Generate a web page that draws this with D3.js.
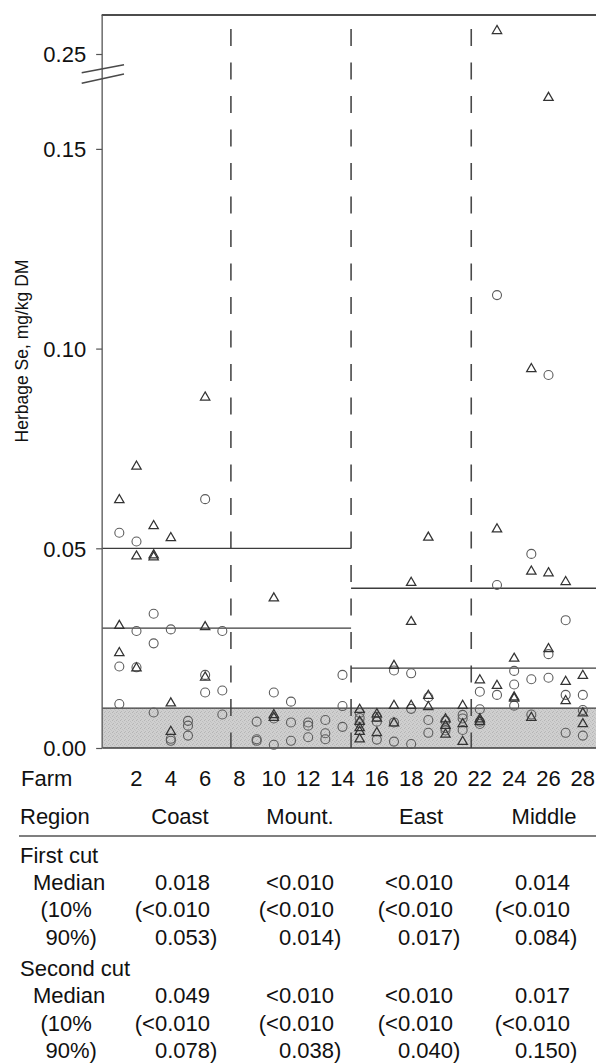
<!DOCTYPE html>
<html>
<head>
<meta charset="utf-8">
<script src="https://cdn.jsdelivr.net/npm/d3@7"></script>
<style>
  html, body { margin: 0; padding: 0; background: #fff; }
  svg { display: block; font-family: "Liberation Sans", Arial, sans-serif; }
</style>
</head>
<body>
<svg id="chart" width="596" height="1064"></svg>
<script>
// ---- data -------------------------------------------------------------
const farmTicks = [2, 4, 6, 8, 10, 12, 14, 16, 18, 20, 22, 24, 26, 28];
const yTicks = [0, 0.05, 0.10, 0.15, 0.25];
const regionDividers = [7.5, 14.5, 21.5];
const regionNames = ["Coast", "Mount.", "East", "Middle"];

// herbage Se (mg/kg DM) per farm, farms 1..28
const firstCut = [
  [0.0539, 0.0204, 0.011],
  [0.0517, 0.0293, 0.0202],
  [0.0336, 0.0262, 0.0089],
  [0.0297, 0.0023, 0.0018],
  [0.0068, 0.0056, 0.0031],
  [0.0623, 0.0183, 0.0139],
  [0.0293, 0.0144, 0.0084],
  [],
  [0.0066, 0.0022, 0.0018],
  [0.0139, 0.0074, 0.0008],
  [0.0116, 0.0064, 0.0018],
  [0.0064, 0.0056, 0.0027],
  [0.007, 0.0037, 0.0022],
  [0.0183, 0.0105, 0.0053],
  [0.0088, 0.0075, 0.0062],
  [0.0078, 0.0066, 0.0021],
  [0.0194, 0.0064, 0.0016],
  [0.0187, 0.0098, 0.001],
  [0.0127, 0.007, 0.0038],
  [0.0068, 0.005, 0.0044],
  [0.0083, 0.0074, 0.0045],
  [0.0141, 0.0097, 0.0066, 0.006],
  [0.1134, 0.0408, 0.0133],
  [0.0193, 0.0159, 0.0106],
  [0.0486, 0.0172, 0.0084],
  [0.0934, 0.0235, 0.0176],
  [0.032, 0.0133, 0.0038],
  [0.0133, 0.0095, 0.0031]
];
const secondCut = [
  [0.0623, 0.0308, 0.024],
  [0.0707, 0.0482, 0.0202],
  [0.0558, 0.0485, 0.048],
  [0.0528, 0.0114, 0.0043],
  [],
  [0.088, 0.0305, 0.0179],
  [],
  [],
  [],
  [0.0377, 0.0085, 0.0078],
  [],
  [],
  [],
  [],
  [0.0098, 0.0068, 0.0052, 0.0043, 0.0024],
  [0.0087, 0.0076, 0.004],
  [0.0208, 0.0108, 0.0064],
  [0.0416, 0.0318, 0.0108],
  [0.0529, 0.0133, 0.0105],
  [0.0074, 0.0058, 0.0036],
  [0.0108, 0.0062, 0.0018],
  [0.0172, 0.0074, 0.0068],
  [0.265, 0.055, 0.0158],
  [0.0226, 0.0129, 0.0126],
  [0.0951, 0.0444, 0.0078],
  [0.163, 0.044, 0.025],
  [0.0418, 0.0168, 0.012],
  [0.0183, 0.0089, 0.0062]
];

// reference levels
const detectionLimit = 0.01;
const westLevels = [0.05, 0.03];   // Coast + Mount.
const eastLevels = [0.04, 0.02];   // East + Middle

// summary table
const firstMedian = ["0.018", "<0.010", "<0.010", "0.014"];
const firstP10    = ["(<0.010", "(<0.010", "(<0.010", "(<0.010"];
const firstP90    = ["0.053)", "0.014)", "0.017)", "0.084)"];
const secondMedian = ["0.049", "<0.010", "<0.010", "0.017"];
const secondP10    = ["(<0.010", "(<0.010", "(<0.010", "(<0.010"];
const secondP90    = ["0.078)", "0.038)", "0.040)", "0.150)"];

// ---- layout -----------------------------------------------------------
const svg = d3.select("#chart");
const W = 596;
const plotTop = 15, plotBottom = 748, plotLeft = 102.15;

const x = d3.scaleLinear().domain([0, 29]).range([plotLeft, 600]);
// broken axis: compressed segment above 0.168
const y = d3.scaleLinear().domain([0, 0.168, 0.24, 0.27]).range([plotBottom, 77, 70, 22]);

const defs = svg.append("defs");
const pat = defs.append("pattern").attr("id", "stipple")
  .attr("patternUnits", "userSpaceOnUse").attr("width", 4).attr("height", 4);
pat.append("rect").attr("width", 4).attr("height", 4).attr("fill", "#cfcfcf");
[[0, 0, "#b4b4b4"], [2, 1, "#bdbdbd"], [1, 3, "#b8b8b8"], [3, 2, "#c2c2c2"]].forEach(([px, py, c]) =>
  pat.append("rect").attr("x", px).attr("y", py).attr("width", 1).attr("height", 1).attr("fill", c));

defs.append("clipPath").attr("id", "plotClip")
  .append("rect").attr("x", plotLeft).attr("y", 0).attr("width", W - plotLeft).attr("height", plotBottom + 2);

const plot = svg.append("g").attr("clip-path", "url(#plotClip)");

// below-detection band
plot.append("rect")
  .attr("x", plotLeft).attr("y", y(detectionLimit))
  .attr("width", W - plotLeft).attr("height", y(0) - y(detectionLimit))
  .attr("fill", "url(#stipple)");

// region dividers
plot.selectAll("line.div").data(regionDividers).join("line")
  .attr("class", "div")
  .attr("x1", d => x(d)).attr("x2", d => x(d))
  .attr("y1", 29).attr("y2", plotBottom)
  .attr("stroke", "#4a4a4a").attr("stroke-width", 1.6)
  .attr("stroke-dasharray", "17,16.5");

// reference levels
const hline = (v, a, b) => plot.append("line")
  .attr("x1", a).attr("x2", b).attr("y1", y(v)).attr("y2", y(v))
  .attr("stroke", "#3c3c3c").attr("stroke-width", 1.3);
westLevels.forEach(v => hline(v, plotLeft, x(regionDividers[1])));
eastLevels.forEach(v => hline(v, x(regionDividers[1]), W));
hline(detectionLimit, plotLeft, W);
hline(0, plotLeft, W);

// points
const pts = (arr) => arr.flatMap((vals, i) => vals.map(v => ({ farm: i + 1, v })));

plot.selectAll("circle.first").data(pts(firstCut)).join("circle")
  .attr("class", "first")
  .attr("cx", d => x(d.farm)).attr("cy", d => y(d.v)).attr("r", 4.5)
  .attr("fill", "none").attr("stroke", "#5c5c5c").attr("stroke-width", 1.1);

const tri = d3.symbol().type(d3.symbolTriangle).size(38);
plot.selectAll("path.second").data(pts(secondCut)).join("path")
  .attr("class", "second")
  .attr("transform", d => `translate(${x(d.farm)},${y(d.v) + 0.8})`)
  .attr("d", tri)
  .attr("fill", "none").attr("stroke", "#333").attr("stroke-width", 1.25);

// frame: top border and y axis
svg.append("line").attr("x1", plotLeft - 0.5).attr("x2", W).attr("y1", plotTop).attr("y2", plotTop)
  .attr("stroke", "#111").attr("stroke-width", 1.6);

const yAxis = d3.axisLeft(y).tickValues(yTicks).tickSize(6).tickPadding(10)
  .tickFormat(d3.format(".2f"));
const gy = svg.append("g").attr("transform", `translate(${plotLeft},0)`).call(yAxis);
gy.select(".domain").remove();
gy.selectAll(".tick line").attr("stroke", "#555").attr("stroke-width", 1.2);
gy.selectAll(".tick text").attr("fill", "#111").attr("font-size", 22)
  .attr("font-family", "Liberation Sans, Arial, sans-serif").attr("dy", "0.36em");
svg.append("line").attr("x1", plotLeft).attr("x2", plotLeft).attr("y1", plotTop).attr("y2", plotBottom)
  .attr("stroke", "#555").attr("stroke-width", 1.3);

// axis break marks
[[72.7, 64.7], [83.3, 74.0]].forEach(([a, b]) => {
  svg.append("line").attr("x1", 81.7).attr("y1", a).attr("x2", 124).attr("y2", b)
    .attr("stroke", "#4a4a4a").attr("stroke-width", 1.5);
});

svg.append("text")
  .attr("transform", "translate(28,351) rotate(-90)")
  .attr("text-anchor", "middle").attr("font-size", 17.5).attr("fill", "#111")
  .text("Herbage Se, mg/kg DM");

// ---- farm axis and summary table ------------------------------------
const fs = 22;
const txt = (s, tx, ty, anchor = "start") => svg.append("text")
  .attr("x", tx).attr("y", ty).attr("text-anchor", anchor)
  .attr("font-size", fs).attr("fill", "#111").text(s);

txt("Farm", 21, 786);
svg.selectAll("text.farm").data(farmTicks).join("text")
  .attr("class", "farm")
  .attr("x", d => x(d)).attr("y", 786).attr("text-anchor", "middle")
  .attr("font-size", fs).attr("fill", "#111").text(d => d);

txt("Region", 20, 824);
const regionCenters = [180, 300, 421, 544];
regionNames.forEach((r, i) => txt(r, regionCenters[i], 824, "middle"));

svg.append("line").attr("x1", 19).attr("x2", W).attr("y1", 836).attr("y2", 836)
  .attr("stroke", "#555").attr("stroke-width", 1.3);

const colRight = [210, 334, 453, 570];
// numbers right-aligned, a closing parenthesis hangs past the column edge
function valueRow(vals, ty) {
  vals.forEach((s, i) => {
    const close = s.endsWith(")");
    txt(close ? s.slice(0, -1) : s, colRight[i], ty, "end");
    if (close) txt(")", colRight[i], ty, "start");
  });
}

txt("First cut", 20, 863);
txt("Median", 33, 890); valueRow(firstMedian, 890);
txt("(10%", 40.5, 917); valueRow(firstP10, 917);
txt("90%)", 45.5, 945); valueRow(firstP90, 945);

txt("Second cut", 20, 976);
txt("Median", 33, 1003); valueRow(secondMedian, 1003);
txt("(10%", 40.5, 1031); valueRow(secondP10, 1031);
txt("90%)", 45.5, 1058); valueRow(secondP90, 1058);
</script>
</body>
</html>
